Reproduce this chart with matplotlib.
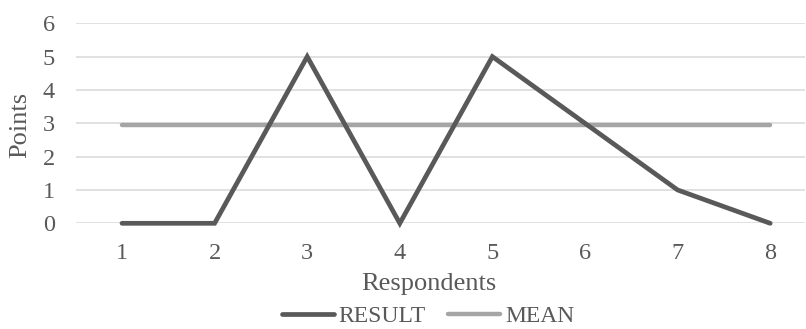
import matplotlib
matplotlib.use("Agg")
import matplotlib.pyplot as plt
from matplotlib.lines import Line2D

respondents = [1, 2, 3, 4, 5, 6, 7, 8]
result = [0, 0, 5, 0, 5, 3, 1, 0]
mean = [2.96] * 8
yticks = [0, 1, 2, 3, 4, 5, 6]

plt.rcParams['font.family'] = ['Liberation Serif', 'DejaVu Serif']
W, H = 806, 329
fig = plt.figure(figsize=(W / 100, H / 100), dpi=100)
left, right = 75.7, 805
top, bottom = 23.3, 223.3
ax = fig.add_axes([left / W, 1 - bottom / H, (right - left) / W, (bottom - top) / H])

tc = '#595959'
ax.plot(respondents, mean, color='#a5a5a5', lw=3.2, solid_capstyle='round', zorder=3)
ax.plot(respondents, result, color='#595959', lw=3.4, solid_capstyle='round',
        solid_joinstyle='miter', zorder=4)

ax.set_xlim(0.5, 0.5 + (right - left) / 92.6)
ax.set_ylim(0, 6)
ax.set_yticks(yticks)
ax.set_xticks(respondents)
ax.yaxis.grid(True, color='#d9d9d9', lw=1.1)
ax.set_axisbelow(True)
for s in ax.spines.values():
    s.set_visible(False)
ax.tick_params(length=0, labelsize=17.5, colors=tc)
ax.tick_params(axis='y', pad=15)
ax.tick_params(axis='x', pad=14)
for lab in ax.get_yticklabels() + ax.get_xticklabels():
    lab.set_color(tc)
for l in ax.lines:
    l.set_clip_on(False)

fig.text(20 / W, 1 - 125 / H, 'Points', rotation=90, ha='center', va='center',
         fontsize=19, color=tc)
fig.text(429 / W, 1 - 284 / H, 'Respondents', ha='center', va='center',
         fontsize=19, color=tc)

handles = [Line2D([], [], color='#595959', lw=3.4, solid_capstyle='round'),
           Line2D([], [], color='#a5a5a5', lw=3.2, solid_capstyle='round')]
fig.legend(handles, ['RESULT', 'MEAN'], loc='center', bbox_to_anchor=(428 / W, 1 - 316.5 / H),
           ncol=2, frameon=False, fontsize=17, handlelength=2.2, handletextpad=0.2,
           columnspacing=0.95, labelcolor=tc, borderpad=0)

fig.savefig('out.png', dpi=100)
